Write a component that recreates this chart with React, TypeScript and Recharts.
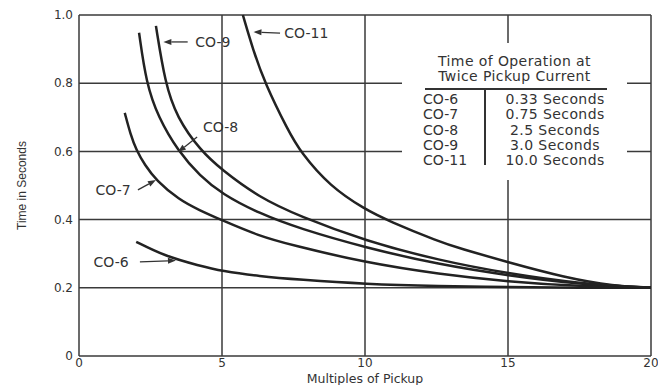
import {
  CartesianGrid,
  Line,
  LineChart,
  ReferenceDot,
  ReferenceLine,
  XAxis,
  YAxis,
} from "recharts";

type Pt = { x: number; y: number };

// curves, x = multiples of pickup, y = seconds
const co6: Pt[] = [
  { x: 2.0, y: 0.335 },
  { x: 3.0, y: 0.293 },
  { x: 4.2, y: 0.265 },
  { x: 5.0, y: 0.249 },
  { x: 6.3, y: 0.234 },
  { x: 7.7, y: 0.224 },
  { x: 10.0, y: 0.211 },
  { x: 12.6, y: 0.205 },
  { x: 15.0, y: 0.202 },
  { x: 17.5, y: 0.2 },
  { x: 20.0, y: 0.2 },
];

const co7: Pt[] = [
  { x: 1.6, y: 0.713 },
  { x: 1.8, y: 0.65 },
  { x: 2.0, y: 0.605 },
  { x: 2.3, y: 0.56 },
  { x: 2.7, y: 0.515 },
  { x: 3.5, y: 0.458 },
  { x: 4.2, y: 0.428 },
  { x: 5.0, y: 0.398 },
  { x: 6.3, y: 0.352 },
  { x: 7.4, y: 0.326 },
  { x: 10.0, y: 0.274 },
  { x: 12.6, y: 0.24 },
  { x: 15.0, y: 0.218 },
  { x: 17.5, y: 0.204 },
  { x: 20.0, y: 0.2 },
];

const co8: Pt[] = [
  { x: 2.1, y: 0.948 },
  { x: 2.35, y: 0.8 },
  { x: 2.77, y: 0.7 },
  { x: 3.47, y: 0.6 },
  { x: 4.23, y: 0.528 },
  { x: 5.0, y: 0.475 },
  { x: 6.3, y: 0.418 },
  { x: 7.7, y: 0.374 },
  { x: 10.0, y: 0.318 },
  { x: 12.6, y: 0.268 },
  { x: 15.0, y: 0.236 },
  { x: 17.5, y: 0.21 },
  { x: 20.0, y: 0.2 },
];

const co9: Pt[] = [
  { x: 2.69, y: 0.968 },
  { x: 3.01, y: 0.8 },
  { x: 3.42, y: 0.7 },
  { x: 4.23, y: 0.604 },
  { x: 5.0, y: 0.545 },
  { x: 6.3, y: 0.465 },
  { x: 7.7, y: 0.41 },
  { x: 10.0, y: 0.338 },
  { x: 12.6, y: 0.28 },
  { x: 15.0, y: 0.242 },
  { x: 17.5, y: 0.212 },
  { x: 20.0, y: 0.2 },
];

const co11: Pt[] = [
  { x: 5.73, y: 1.0 },
  { x: 6.09, y: 0.897 },
  { x: 6.5, y: 0.8 },
  { x: 7.3, y: 0.663 },
  { x: 7.75, y: 0.597 },
  { x: 8.78, y: 0.497 },
  { x: 10.0, y: 0.43 },
  { x: 10.8, y: 0.397 },
  { x: 12.6, y: 0.335 },
  { x: 13.3, y: 0.316 },
  { x: 15.0, y: 0.275 },
  { x: 17.0, y: 0.23 },
  { x: 18.7, y: 0.205 },
  { x: 20.0, y: 0.2 },
];

const curves = [
  { name: "CO-6", data: co6 },
  { name: "CO-7", data: co7 },
  { name: "CO-8", data: co8 },
  { name: "CO-9", data: co9 },
  { name: "CO-11", data: co11 },
];

const xTicks = [0, 5, 10, 15, 20];
const yTicks = [0, 0.2, 0.4, 0.6, 0.8, 1.0];

// curve callouts: label centre, arrow tail, arrow tip (data units)
const callouts = [
  { name: "CO-11", label: { x: 7.95, y: 0.947 }, from: { x: 7.03, y: 0.947 }, to: { x: 6.1, y: 0.95 } },
  { name: "CO-9", label: { x: 4.68, y: 0.921 }, from: { x: 3.8, y: 0.921 }, to: { x: 2.95, y: 0.921 } },
  { name: "CO-8", label: { x: 4.95, y: 0.672 }, from: { x: 4.13, y: 0.642 }, to: { x: 3.46, y: 0.598 } },
  { name: "CO-7", label: { x: 1.19, y: 0.487 }, from: { x: 2.06, y: 0.487 }, to: { x: 2.69, y: 0.516 } },
  { name: "CO-6", label: { x: 1.12, y: 0.276 }, from: { x: 2.13, y: 0.276 }, to: { x: 3.39, y: 0.28 } },
];

const tableTitle = ["Time of Operation at", "Twice Pickup Current"];
const tableRelays = ["CO-6", "CO-7", "CO-8", "CO-9", "CO-11"];
const tableTimes = ["0.33 Seconds", "0.75 Seconds", "2.5 Seconds", "3.0 Seconds", "10.0 Seconds"];

const INK = "#222";
const TEXT = "#333";
const FONT = "'DejaVu Sans', sans-serif";

function Arrow(props: any) {
  const { x1, y1, x2, y2 } = props;
  const a = Math.atan2(y2 - y1, x2 - x1);
  const len = 8;
  const half = 3;
  const bx = x2 - len * Math.cos(a);
  const by = y2 - len * Math.sin(a);
  const nx = -Math.sin(a) * half;
  const ny = Math.cos(a) * half;
  return (
    <g>
      <line x1={x1} y1={y1} x2={bx} y2={by} stroke={TEXT} strokeWidth={1.3} />
      <polygon
        points={`${x2},${y2} ${bx + nx},${by + ny} ${bx - nx},${by - ny}`}
        fill={TEXT}
      />
    </g>
  );
}

function YTitle(props: any) {
  const vb = props.viewBox;
  const x = vb.x + 3;
  const y = vb.y + vb.height / 2;
  return (
    <text
      x={x}
      y={y}
      transform={`rotate(-90 ${x} ${y})`}
      textAnchor="middle"
      dominantBaseline="central"
      fontSize={12}
      fontFamily="'Liberation Sans', Arial, sans-serif"
      fill={TEXT}
    >
      Time in Seconds
    </text>
  );
}

export default function App() {
  return (
    <div style={{ position: "absolute", left: 0, top: 0, width: 658, height: 385, background: "#fff", fontFamily: FONT }}>
      <LineChart width={658} height={385} margin={{ top: 15, right: 7, bottom: 0, left: 19 }}>
        <CartesianGrid stroke="#3a3a3a" strokeWidth={1.5} horizontalValues={yTicks} verticalValues={xTicks} />
        <XAxis
          dataKey="x"
          type="number"
          domain={[0, 20]}
          ticks={xTicks}
          height={29}
          axisLine={false}
          tickLine={false}
          tickSize={0}
          tickMargin={2}
          tick={{ fill: TEXT, fontSize: 12, fontFamily: FONT }}
          label={{ value: "Multiples of Pickup", position: "insideBottom", offset: 2, fill: TEXT, fontSize: 12.5, fontFamily: FONT }}
        />
        <YAxis
          type="number"
          domain={[0, 1]}
          ticks={yTicks}
          width={60}
          axisLine={false}
          tickLine={false}
          tickSize={0}
          tickMargin={6}
          tickFormatter={(v: number) => (v === 0 ? "0" : v.toFixed(1))}
          tick={{ fill: TEXT, fontSize: 12, fontFamily: FONT }}
          label={{ content: YTitle }}
        />
        {curves.map((c) => (
          <Line
            key={c.name}
            name={c.name}
            data={c.data}
            dataKey="y"
            type="basis"
            stroke={INK}
            strokeWidth={2.5}
            dot={false}
            activeDot={false}
            isAnimationActive={false}
          />
        ))}
        {callouts.map((c) => (
          <ReferenceLine key={`a-${c.name}`} segment={[c.from, c.to]} shape={Arrow} />
        ))}
        {callouts.map((c) => (
          <ReferenceDot
            key={`l-${c.name}`}
            x={c.label.x}
            y={c.label.y}
            r={0}
            fill="none"
            stroke="none"
            label={{ value: c.name, position: "center", fill: TEXT, fontSize: 14, fontFamily: FONT }}
          />
        ))}
      </LineChart>
      <div
        style={{
          position: "absolute",
          left: 402,
          top: 43,
          width: 225,
          height: 137,
          background: "#fff",
          color: TEXT,
          fontSize: 14,
        }}
      >
        <div style={{ position: "absolute", top: 11, left: 0, width: 225, textAlign: "center", lineHeight: "15px", letterSpacing: 0.4 }}>
          {tableTitle.map((t) => (
            <div key={t}>{t}</div>
          ))}
        </div>
        <div style={{ position: "absolute", top: 45, left: 23, width: 182, height: 2, background: TEXT }} />
        <div style={{ position: "absolute", top: 46, left: 82, width: 2, height: 76, background: TEXT }} />
        <div style={{ position: "absolute", top: 49, left: 21, lineHeight: "15.3px" }}>
          {tableRelays.map((t) => (
            <div key={t}>{t}</div>
          ))}
        </div>
        <div style={{ position: "absolute", top: 49, left: 93, width: 120, textAlign: "center", lineHeight: "15.3px", letterSpacing: 0.4 }}>
          {tableTimes.map((t) => (
            <div key={t}>{t}</div>
          ))}
        </div>
      </div>
    </div>
  );
}
